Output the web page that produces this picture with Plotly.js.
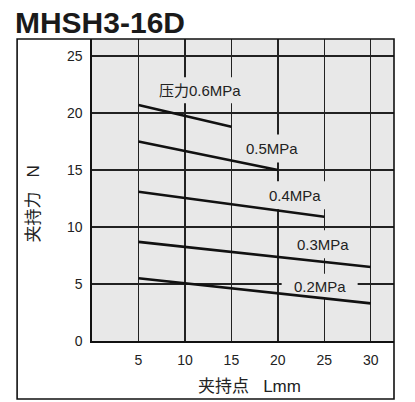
<!DOCTYPE html>
<html>
<head>
<meta charset="utf-8">
<script src="https://cdn.plot.ly/plotly-3.0.1.min.js"></script>
<style>html,body{margin:0;padding:0;background:#fff;}#chart{width:415px;height:402px;}</style>
</head>
<body>
<div id="chart"></div>
<script>
// ---- data ----
const chartTitle = 'MHSH3-16D';
const xTitle = '夹持点\u00a0\u00a0\u00a0Lmm';
const yTitle = '夹持力\u00a0\u00a0\u00a0N';
const xTickVals = [5, 10, 15, 20, 25, 30];
const yTickVals = [0, 5, 10, 15, 20, 25];
const seriesNames = ['压力0.6MPa', '0.5MPa', '0.4MPa', '0.3MPa', '0.2MPa'];
const L_06 = [5, 15];  const F_06 = [20.7, 18.8];
const L_05 = [5, 20];  const F_05 = [17.5, 15.0];
const L_04 = [5, 25];  const F_04 = [13.1, 10.9];
const L_03 = [5, 30];  const F_03 = [8.7, 6.5];
const L_02 = [5, 30];  const F_02 = [5.5, 3.3];

// ---- layout configuration ----
const FONT = 'Liberation Sans, Arial, Noto Sans CJK SC, sans-serif';
const BG = '#e8e8e8';
const labelPos = [
  {x: 11.6, y: 22.0, w: 96, h: 26},
  {x: 19.4, y: 16.9, w: 70, h: 28},
  {x: 21.8, y: 12.8, w: 72, h: 28},
  {x: 24.9, y: 8.5,  w: 70, h: 28},
  {x: 24.5, y: 4.8,  w: 76, h: 25}
];

const Ls = [L_06, L_05, L_04, L_03, L_02];
const Fs = [F_06, F_05, F_04, F_03, F_02];
const traces = Ls.map((L, i) => ({
  type: 'scatter', mode: 'lines', x: L, y: Fs[i], name: seriesNames[i],
  line: {color: '#111', width: 2.6}, hoverinfo: 'skip', showlegend: false
}));

const shapes = labelPos.map(p => ({
  type: 'rect', layer: 'between', xref: 'x', yref: 'y',
  xsizemode: 'pixel', ysizemode: 'pixel', xanchor: p.x, yanchor: p.y,
  x0: -p.w / 2, x1: p.w / 2, y0: -p.h / 2, y1: p.h / 2,
  fillcolor: BG, line: {width: 0}
}));
shapes.push({type: 'rect', layer: 'above', xref: 'paper', yref: 'paper',
  x0: -0.248, x1: 1, y0: -0.192, y1: 1, line: {color: '#111', width: 1.6}, fillcolor: 'rgba(0,0,0,0)'});

const annotations = seriesNames.map((t, i) => ({
  text: t, x: labelPos[i].x, y: labelPos[i].y, xref: 'x', yref: 'y',
  showarrow: false, xanchor: 'center', yanchor: 'middle',
  font: {family: FONT, size: 15, color: '#222'}
}));
annotations.push({text: xTitle, xref: 'paper', yref: 'paper', x: 0.522, y: -0.151,
  showarrow: false, xanchor: 'center', yanchor: 'middle',
  font: {family: FONT, size: 17, color: '#222'}});
annotations.push({text: yTitle, xref: 'paper', yref: 'paper', x: -0.195, y: 0.452,
  showarrow: false, xanchor: 'center', yanchor: 'middle', textangle: -90,
  font: {family: FONT, size: 17, color: '#222'}});

const layout = {
  width: 415, height: 402,
  margin: {l: 92, r: 21, t: 39, b: 61, pad: 0},
  paper_bgcolor: '#fff', plot_bgcolor: BG,
  title: {text: chartTitle, xref: 'container', x: 0.036, xanchor: 'left',
    yref: 'container', y: 0.944, yanchor: 'middle',
    font: {family: FONT, size: 30, weight: 'bold', color: '#1a1a1a'}},
  xaxis: {range: [0, 32.5], tickvals: xTickVals, ticktext: xTickVals.map(String),
    showgrid: true, gridcolor: '#222', gridwidth: 1.3, zeroline: false,
    showline: true, linecolor: '#111', linewidth: 2, ticks: '', ticklabelstandoff: 5,
    tickfont: {family: FONT, size: 14, color: '#222'}, fixedrange: true},
  yaxis: {range: [0, 26.5], tickvals: yTickVals, ticktext: yTickVals.map(String),
    showgrid: true, gridcolor: '#222', gridwidth: 1.3, zeroline: false,
    showline: true, linecolor: '#111', linewidth: 1.6, ticks: '', ticklabelstandoff: 5,
    tickfont: {family: FONT, size: 14, color: '#222'}, fixedrange: true},
  shapes: shapes, annotations: annotations, showlegend: false
};

Plotly.newPlot('chart', traces, layout, {displayModeBar: false, staticPlot: true});
</script>
</body>
</html>
